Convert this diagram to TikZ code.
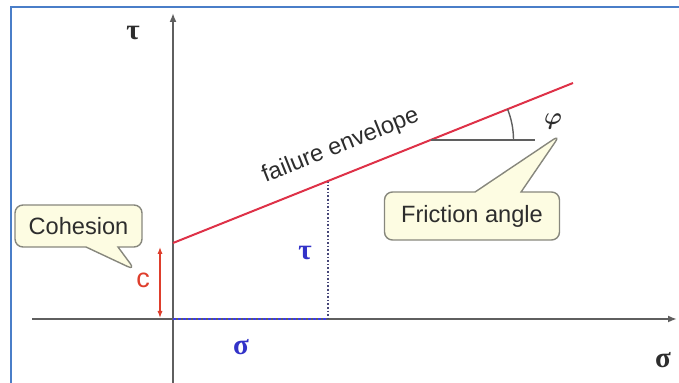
\documentclass[tikz,border=0pt]{standalone}
\usepackage{amsmath}
\usepackage{fontspec}
\setmainfont{Liberation Sans}
\newfontfamily\greekfont{Liberation Serif}
\usetikzlibrary{arrows.meta,shapes.callouts}
\definecolor{framecol}{RGB}{74,126,200}
\definecolor{axiscol}{RGB}{95,95,95}
\definecolor{envcol}{RGB}{222,50,72}
\definecolor{ccol}{RGB}{222,62,44}
\definecolor{bluetxt}{RGB}{50,50,200}
\definecolor{bluedotcol}{RGB}{60,60,230}
\definecolor{navydotcol}{RGB}{70,70,120}
\definecolor{calfill}{RGB}{253,252,226}
\definecolor{calborder}{RGB}{135,135,125}
\definecolor{txtcol}{RGB}{45,45,45}
\tikzset{
  frameline/.style={draw=framecol,line width=1.3pt},
  axisline/.style={draw=axiscol,line width=1pt,-{Latex[length=4.5pt,width=3.5pt]}},
  envline/.style={draw=envcol,line width=1pt},
  carrow/.style={draw=ccol,line width=0.6pt,{Latex[length=3.5pt,width=2.6pt]}-{Latex[length=3.5pt,width=2.6pt]}},
  bluedot/.style={draw=bluedotcol,line width=1.3pt,dash pattern=on 1.3pt off 1.2pt},
  navydot/.style={draw=navydotcol,line width=0.8pt,densely dotted},
  anglestyle/.style={draw=axiscol,line width=0.7pt},
  calloutbox/.style={rectangle callout,draw=calborder,fill=calfill,line width=0.7pt,
    rounded corners=4pt,text=txtcol,font=\fontsize{11.8pt}{14pt}\selectfont,inner sep=0pt},
  envtext/.style={text=txtcol,font=\fontsize{11.8pt}{14pt}\selectfont,inner sep=0pt},
  greek/.style={font=\greekfont\bfseries\fontsize{14.5pt}{16pt}\selectfont,inner sep=0pt},
  ctext/.style={text=ccol,font=\fontsize{13.5pt}{15pt}\selectfont,inner sep=0pt}
}
\begin{document}
\begin{tikzpicture}[x=0.5pt,y=-0.5pt]
\useasboundingbox (0,0) rectangle (679,383);
% frame
\draw[frameline] (11,383) -- (11,7) -- (679,7);
% coordinates
\coordinate (ybot) at (173,383);
\coordinate (ytop) at (173,13);
\coordinate (xleft) at (32,319);
\coordinate (xright) at (677,319);
\coordinate (O) at (173,319);
\coordinate (E0) at (173,243);
\coordinate (E1) at (573,83);
\coordinate (P) at (328,181);
\coordinate (Pb) at (328,319);
\coordinate (cTop) at (160,247);
\coordinate (cBot) at (160,318);
\coordinate (A) at (430.5,140);
\coordinate (Aend) at (535,140);
\coordinate (cohP) at (135,270);
\coordinate (friP) at (560,135);
% axes
\draw[axisline] (ybot) -- (ytop);
\draw[axisline] (xleft) -- (xright);
% dotted projections
\draw[bluedot] (O) -- (Pb);
\draw[navydot] (P) -- (Pb);
% failure envelope
\draw[envline] (E0) -- (E1);
% cohesion arrow
\draw[carrow] (cTop) -- (cBot);
% friction angle mark
\draw[anglestyle] (A) -- (Aend);
\draw[anglestyle] (A) ++(41.5pt,0) arc[start angle=0,end angle=21.8,radius=41.5pt];
% labels
\node[envtext,rotate=21.8,anchor=base] (env) at (343,152) {failure envelope};
\node[greek,text=txtcol] (tauax) at (133,33) {τ};
\node[greek,text=txtcol] (sigax) at (663,360) {σ};
\node[greek,text=bluetxt] (taub) at (305,253) {τ};
\node[greek,text=bluetxt] (sigb) at (241,347) {σ};
\node[ctext] (c) at (143,280) {c};
\node[inner sep=0pt,text=txtcol,font=\fontsize{13pt}{15pt}\selectfont] (phi) at (553,122) {$\boldsymbol{\varphi}$};
% callouts
\node[calloutbox,minimum width=63.5pt,minimum height=21pt,
  callout absolute pointer={(cohP)},callout pointer width=16pt] (coh) at (78.5,226) {Cohesion};
\node[calloutbox,minimum width=87.5pt,minimum height=24pt,
  callout absolute pointer={(friP)},callout pointer width=23pt] (fri) at (472,216) {Friction angle};
\end{tikzpicture}
\end{document}
